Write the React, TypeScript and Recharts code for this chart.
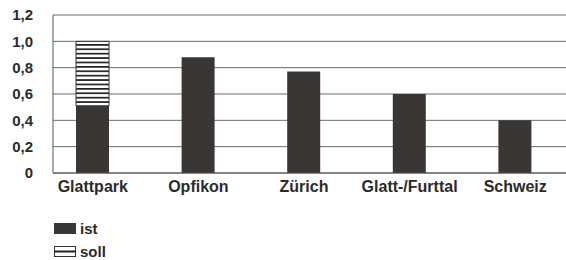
import { BarChart, Bar, XAxis, YAxis, CartesianGrid, Legend } from "recharts"

const categories = ["Glattpark", "Opfikon", "Zürich", "Glatt-/Furttal", "Schweiz"]
const istValues = [0.51, 0.88, 0.77, 0.6, 0.4]
const sollValues = [1.0, null, null, null, null]
const yTicks = [0, 0.2, 0.4, 0.6, 0.8, 1.0, 1.2]

const data = categories.map((name, i) => ({
  name,
  ist: istValues[i],
  // soll is drawn as the remainder on top of ist
  soll: sollValues[i] != null ? (sollValues[i] as number) - istValues[i] : 0,
}))

const font = "'Liberation Sans', Arial, sans-serif"
const textColor = "#2b2b2b"
const barColor = "#3a3634"

const fmt = (v: number) => (v === 0 ? "0" : v.toFixed(1).replace(".", ","))

function LegendBox() {
  const row = {
    display: "flex",
    alignItems: "center",
    height: 23,
    fontFamily: font,
    fontSize: 15,
    fontWeight: 700,
    color: textColor,
  }
  return (
    <div>
      <div style={row}>
        <svg width={22} height={11} style={{ marginRight: 4 }}>
          <rect x={0} y={0} width={22} height={11} fill={barColor} />
        </svg>
        <span>ist</span>
      </div>
      <div style={row}>
        <svg width={22} height={11} style={{ marginRight: 4 }}>
          <rect x={0.5} y={0.5} width={21} height={10} fill="#fff" stroke="#333" />
          <rect x={0} y={4.5} width={22} height={2} fill="#222" />
        </svg>
        <span>soll</span>
      </div>
    </div>
  )
}

export default function App() {
  return (
    <div style={{ position: "absolute", left: 0, top: 0, background: "#fff" }}>
      <BarChart width={566} height={260} data={data} margin={{ top: 15, right: 0, left: 0, bottom: 57 }}>
        <defs>
          <pattern id="stripes" patternUnits="userSpaceOnUse" width={8} height={4.4}>
            <rect x={0} y={0} width={8} height={4.4} fill="#fff" />
            <rect x={0} y={0} width={8} height={1.7} fill="#222" />
          </pattern>
        </defs>
        <CartesianGrid vertical={false} stroke="#6a6a6a" />
        <XAxis
          dataKey="name"
          height={30}
          padding={{ left: -13, right: -2 }}
          tickLine={false}
          axisLine={{ stroke: "#555" }}
          tick={{ fontFamily: font, fontSize: 16, fontWeight: 700, fill: textColor }}
          interval={0}
        />
        <YAxis
          width={53}
          domain={[0, 1.2]}
          ticks={yTicks}
          interval={0}
          tickFormatter={fmt}
          tickLine={false}
          tickMargin={14}
          axisLine={{ stroke: "#555" }}
          tick={{ fontFamily: font, fontSize: 15, fontWeight: 700, fill: textColor }}
        />
        <Legend
          layout="vertical"
          align="center"
          verticalAlign="middle"
          wrapperStyle={{ left: 54, top: 217, width: 120 }}
          content={() => <LegendBox />}
        />
        <Bar dataKey="ist" stackId="a" fill={barColor} barSize={33} isAnimationActive={false} />
        <Bar dataKey="soll" stackId="a" fill="url(#stripes)" stroke="#333" strokeWidth={1} barSize={33} isAnimationActive={false} />
      </BarChart>
    </div>
  )
}
